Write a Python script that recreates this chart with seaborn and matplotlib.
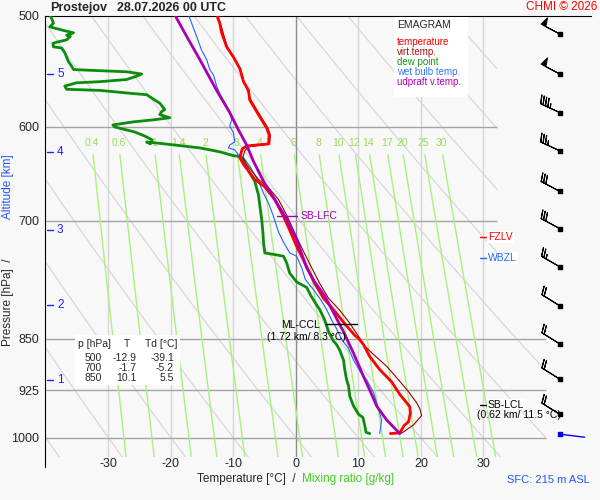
import numpy as np
import seaborn as sns
import matplotlib.pyplot as plt
from matplotlib.patches import Rectangle, Polygon
from matplotlib.ticker import NullLocator

sns.set_style("white")
plt.rcParams['font.family'] = ['Liberation Sans', 'DejaVu Sans']

BG = '#f8f8f8'

# sounding (hPa / degC)
temp_p = [993, 992, 980, 974, 960, 950, 944, 931, 912, 894, 875, 858, 850, 845, 827, 810, 795, 776,
          750, 730, 711, 695, 676, 662, 654, 645, 638, 631, 622, 619, 617, 608, 601, 596, 585, 574,
          565, 557, 545, 535, 526, 514, 506, 499]
temp_t = [15.1, 16.6, 17.3, 18.0, 18.3, 18.2, 17.7, 16.6, 15.3, 13.4, 11.8, 10.8, 10.1, 9.4, 7.6, 6.0, 4.4, 3.0,
          1.4, 0.1, -1.0, -2.0, -3.4, -5.0, -6.6, -7.6, -8.4, -9.0, -8.6, -7.9, -4.4, -4.3, -4.7, -5.2, -6.3, -7.4,
          -7.6, -8.4, -9.0, -10.0, -11.1, -11.9, -12.2, -12.7]

virt_p = [993, 979, 964, 953, 944, 927, 909, 889, 872, 860, 845, 827, 810, 795, 776, 750, 730, 711, 695,
          676, 662, 654, 645, 638, 631, 624, 620, 617, 608, 601, 585, 574, 557, 545, 526, 506, 499]
virt_t = [16.8, 18.8, 20.1, 19.8, 19.3, 18.0, 16.4, 14.5, 12.4, 11.0, 9.9, 8.5, 6.9, 5.2, 3.8, 2.1, 0.8, -0.4, -1.4,
          -2.8, -4.5, -6.0, -7.1, -7.9, -8.5, -8.2, -7.6, -4.2, -4.1, -4.5, -6.1, -7.2, -8.3, -8.9, -11.0, -12.1, -12.6]

dew_p = [993, 991, 980, 967, 962, 949, 934, 918, 909, 894, 880, 866, 858, 853, 840, 824, 810, 804, 792, 781,
         774, 763, 750, 742, 740, 738, 725, 713, 698, 682, 671, 656, 646, 630, 629, 625, 621, 618, 616, 615,
         617, 613, 609, 605, 600, 598, 595, 593, 591, 588, 585, 583, 577, 574, 569, 568, 565, 564, 561, 558,
         557, 555, 552, 550, 548, 547, 546, 543, 539, 531, 527, 526, 523, 522, 520, 517, 516, 514, 512, 509,
         506, 502, 499]
dew_t = [11.8, 11.2, 11.0, 10.7, 10.0, 9.2, 8.6, 8.4, 8.1, 7.8, 7.6, 7.0, 6.5, 6.0, 5.2, 4.6, 3.8, 3.3, 2.4, 1.7,
         0.1, -1.0, -1.5, -2.0, -3.4, -5.0, -5.2, -5.3, -5.5, -5.8, -6.0, -6.6, -7.5, -8.8, -10.0, -12.2, -15.4, -19.5, -22.4, -23.9,
         -23.3, -23.0, -24.2, -25.8, -29.0, -29.3, -26.0, -22.8, -20.2, -21.8, -21.5, -21.0, -21.8, -22.6, -23.9, -26.0, -31.4, -36.7, -37.0, -35.1,
         -31.4, -27.1, -25.5, -24.7, -27.1, -31.4, -35.6, -35.9, -36.4, -37.0, -37.5, -38.8, -38.9, -38.3, -36.7, -36.1, -36.7, -35.6, -37.2, -39.4,
         -38.8, -39.1, -39.4]

wet_p = [993, 971, 960, 944, 928, 909, 899, 880, 863, 851, 836, 824, 810, 795, 784, 771, 756, 742, 738, 725,
         713, 695, 680, 669, 656, 640, 631, 630, 623, 621, 618, 615, 606, 599, 593, 585, 568, 561, 551, 546,
         537, 529, 517, 506, 499]
wet_t = [13.4, 13.7, 13.4, 12.9, 12.4, 11.3, 10.4, 9.2, 8.4, 7.3, 6.5, 5.7, 4.9, 3.8, 2.8, 1.5, 0.9, 0.1, -1.0, -2.0,
         -2.8, -3.6, -4.4, -5.2, -6.0, -7.4, -8.4, -9.0, -9.8, -10.8, -10.6, -9.8, -10.0, -10.6, -10.3, -10.6, -12.2, -12.7, -13.2, -13.8,
         -14.3, -15.1, -15.9, -16.7, -17.2]

parcel_p = [993, 971, 949, 931, 904, 870, 840, 814, 792, 774, 756, 722, 698, 676, 656, 635, 618, 603,
            586, 565, 537, 517, 499]
parcel_t = [16.6, 14.5, 12.9, 12.1, 10.8, 9.2, 7.6, 6.0, 4.6, 3.0, 1.7, 0.1, -1.5, -3.4, -5.2, -6.8, -7.9, -9.2,
            -10.6, -12.7, -15.4, -17.5, -19.4]

# winds (hPa, deg, kt)
wind_p = [515, 550, 586, 624, 667, 709, 755, 805, 857, 908, 962]
wind_dir = [298, 298, 295, 295, 298, 298, 300, 302, 302, 302, 302]
wind_spd = [50, 50, 45, 35, 30, 30, 25, 20, 20, 20, 20]
sfc_p, sfc_dir = 994, 97

alt_km = [1, 2, 3, 4, 5]
alt_p = [909, 804, 711, 625, 550]

mix_ratios = [0.4, 0.6, 1, 1.4, 2, 3, 4, 6, 8, 10, 12, 14, 17, 20, 25, 30]
p_ticks = [500, 600, 700, 850, 925, 1000]
t_ticks = [-30, -20, -10, 0, 10, 20, 30]

table_rows = [("500", "-12.9", "-39.1"), ("700", "-1.7", "-5.2"), ("850", "10.1", "5.5")]


def fx(x):
    return x / 600


def fy(y):
    return 1 - y / 500


def dewpoint_from_w(w, p):
    e = w * p / (622 + w)
    lg = np.log(e / 6.112)
    return 243.5 * lg / (17.67 - lg)


fig = plt.figure(figsize=(6, 5), dpi=100, facecolor=BG)
ax = fig.add_axes([fx(45), fy(457), 546 / 600, 441 / 500], facecolor=BG)
ax.set_yscale('log')
ax.set_xlim(-40.16, 47.2)
ax.set_ylim(1032, 500)

# clip region of the diagram (right edge stepped like the reference)
clip = Polygon([(-41, 499), (32.2, 499), (32.2, 760), (40, 830), (40, 1033), (-41, 1033)],
               transform=ax.transData, facecolor='none', edgecolor='none')
ax.add_patch(clip)

# dry adiabats
pp = np.linspace(500, 1032, 80)
for th in range(-40, 130, 10):
    tt = (th + 273.15) * (pp / 1000) ** 0.286 - 273.15
    ln, = ax.plot(tt, pp, color='#d4d4d4', lw=0.8, zorder=1)
    ln.set_clip_path(clip)

# isotherms
for t in t_ticks:
    ax.plot([t, t], [500, 1032], color='#8c8c8c' if t == 0 else '#d6d6d6', lw=1, zorder=1.2)

# isobars
ax.hlines([600, 700], -40.2, 32.2, color='#a4a4a4', lw=1, zorder=1.3)
ax.hlines([850, 925, 1000], -40.2, 40, color='#a4a4a4', lw=1, zorder=1.3)

# mixing ratio lines
pm = np.linspace(628, 1032, 40)
for w in mix_ratios:
    ln, = ax.plot(dewpoint_from_w(w, pm), pm, color='#a8f27c', lw=1, zorder=1.4)
    ln.set_clip_path(clip)
    ax.text(dewpoint_from_w(w, 620), 616, f"{w:g}", color='#9ada5a', fontsize=7.5,
            ha='center', va='center', zorder=1.5)

# profiles
sns.lineplot(x=dew_t, y=dew_p, sort=False, estimator=None, color='#0c8c0c', lw=2.0, ax=ax, zorder=3)
sns.lineplot(x=wet_t, y=wet_p, sort=False, estimator=None, color='#2266ff', lw=0.8, ax=ax, zorder=3.1)
sns.lineplot(x=virt_t, y=virt_p, sort=False, estimator=None, color='#990000', lw=0.8, ax=ax, zorder=3.2)
sns.lineplot(x=temp_t, y=temp_p, sort=False, estimator=None, color='#ff0000', lw=2.0, ax=ax, zorder=3.3)
sns.lineplot(x=parcel_t, y=parcel_p, sort=False, estimator=None, color='#a600b0', lw=2.0, ax=ax, zorder=3.4)

# axes styling
ax.set_yticks(p_ticks)
ax.set_yticklabels([str(p) for p in p_ticks])
ax.yaxis.set_minor_locator(NullLocator())
ax.set_xticks(t_ticks)
ax.set_xticklabels([str(t) for t in t_ticks])
ax.tick_params(axis='both', length=0, labelsize=9)
ax.tick_params(axis='y', pad=4)
ax.tick_params(axis='x', pad=1)
ax.set_xlabel('')
ax.set_ylabel('')
for side in ['right', 'bottom']:
    ax.spines[side].set_visible(False)
ax.spines['top'].set_color('k')
ax.spines['left'].set_color('k')
ax.spines['left'].set_bounds(500, 1049)

# altitude scale
ytr = ax.get_yaxis_transform()
for km, p in zip(alt_km, alt_p):
    ax.plot([0.004, 0.015], [p, p], color='#2020ff', lw=1, transform=ytr, zorder=4)
    ax.text(0.022, p, str(km), color='#2020ff', fontsize=8.5, va='center', transform=ytr, zorder=4)

# wind barbs
bx = 42.2
u = [-s * np.sin(np.deg2rad(d)) for d, s in zip(wind_dir, wind_spd)]
v = [-s * np.cos(np.deg2rad(d)) for d, s in zip(wind_dir, wind_spd)]
ax.barbs([bx] * len(wind_p), wind_p, u, v, length=5.5, linewidth=0.8, color='k', clip_on=False, zorder=5)
ax.scatter([bx] * len(wind_p), wind_p, marker='s', s=5, color='k', zorder=5, clip_on=False)
ax.scatter([bx], [sfc_p], marker='s', s=5, color='#0000ee', zorder=5)
ax.annotate('', xy=(bx, sfc_p), xytext=(18 * np.sin(np.deg2rad(sfc_dir)), 18 * np.cos(np.deg2rad(sfc_dir))),
            textcoords='offset points',
            arrowprops=dict(arrowstyle='-', color='#0000ee', lw=1, shrinkA=0, shrinkB=0), zorder=5)

# level annotations
ax.plot([-3.1, 0.2], [694, 694], color='#a600b0', lw=1, zorder=4)
ax.text(0.8, 694, 'SB-LFC', color='#a600b0', fontsize=7.5, va='center', zorder=4)
ax.plot([4.8, 9.8], [830, 830], color='k', lw=1, zorder=4)
ax.text(-2.4, 831, 'ML-CCL', color='k', fontsize=7.5, va='center', zorder=4)
ax.text(-4.6, 848, '(1.72 km/ 8.3 °C)', color='k', fontsize=7.5, va='center', zorder=4)
ax.plot([29.4, 30.5], [947, 947], color='k', lw=1, zorder=4)
ax.text(30.7, 947, 'SB-LCL', color='k', fontsize=7.5, va='center', zorder=4,
        bbox=dict(facecolor='white', edgecolor='none', pad=0.5))
ax.text(29.0, 963, '(0.62 km/ 11.5 °C)', color='k', fontsize=7.5, va='center', zorder=4)
ax.plot([29.4, 30.5], [719, 719], color='red', lw=1, zorder=4)
ax.text(30.7, 719, 'FZLV', color='red', fontsize=7.5, va='center', zorder=4,
        bbox=dict(facecolor='white', edgecolor='none', pad=1))
ax.plot([29.4, 30.5], [744, 744], color='#2266ff', lw=1, zorder=4)
ax.text(30.7, 744, 'WBZL', color='#2266ff', fontsize=7.5, va='center', zorder=4,
        bbox=dict(facecolor='white', edgecolor='none', pad=1))

# legend box
fig.patches.append(Rectangle((fx(394), fy(97)), 74 / 600, 80 / 500, transform=fig.transFigure,
                             facecolor='white', edgecolor='none', zorder=6))
fig.text(fx(397), fy(25), 'EMAGRAM', fontsize=7.5, va='center', zorder=7)
legend_items = [('temperature', '#ff0000'), ('virt.temp.', '#aa1111'), ('dew point', '#1a9a1a'),
                ('wet bulb temp.', '#3377ff'), ('udpraft v.temp.', '#b000c0')]
for i, (lab, col) in enumerate(legend_items):
    fig.text(fx(397), fy(42 + 10 * i), lab, color=col, fontsize=7, va='center', zorder=7)

# table
fig.patches.append(Rectangle((fx(75), fy(385)), 105 / 600, 50 / 500, transform=fig.transFigure,
                             facecolor='white', edgecolor='none', zorder=6))
fig.text(fx(78), fy(344), 'p [hPa]', fontsize=7.5, va='center', zorder=7)
fig.text(fx(127), fy(344), 'T', fontsize=7.5, va='center', ha='center', zorder=7)
fig.text(fx(145), fy(344), 'Td [°C]', fontsize=7.5, va='center', zorder=7)
for i, (pr, t, td) in enumerate(table_rows):
    yy = fy(358 + 10 * i)
    fig.text(fx(102), yy, pr, fontsize=7.5, va='center', ha='right', zorder=7)
    fig.text(fx(137), yy, t, fontsize=7.5, va='center', ha='right', zorder=7)
    fig.text(fx(174), yy, td, fontsize=7.5, va='center', ha='right', zorder=7)

# titles and axis labels
fig.text(fx(50), fy(8), 'Prostejov', fontsize=9, weight='bold', va='center')
fig.text(fx(117), fy(8), '28.07.2026 00 UTC', fontsize=9, weight='bold', va='center')
fig.text(fx(597), fy(7), 'CHMI © 2026', fontsize=8.5, color='red', va='center', ha='right')
fig.text(fx(197), fy(479), 'Temperature [°C]  /', fontsize=8.5, va='center')
fig.text(fx(302), fy(479), 'Mixing ratio [g/kg]', fontsize=8.5, va='center', color='#44cc22')
fig.text(fx(590), fy(480), 'SFC: 215 m ASL', fontsize=8, va='center', ha='right', color='#2255ff')
fig.text(fx(8), fy(346), 'Pressure [hPa]  /', fontsize=8.5, rotation=90, ha='center', va='bottom')
fig.text(fx(8), fy(219), 'Altitude [km]', fontsize=8.5, rotation=90, ha='center', va='bottom', color='#2255ff')

fig.savefig('out.png', dpi=100, facecolor=BG)
